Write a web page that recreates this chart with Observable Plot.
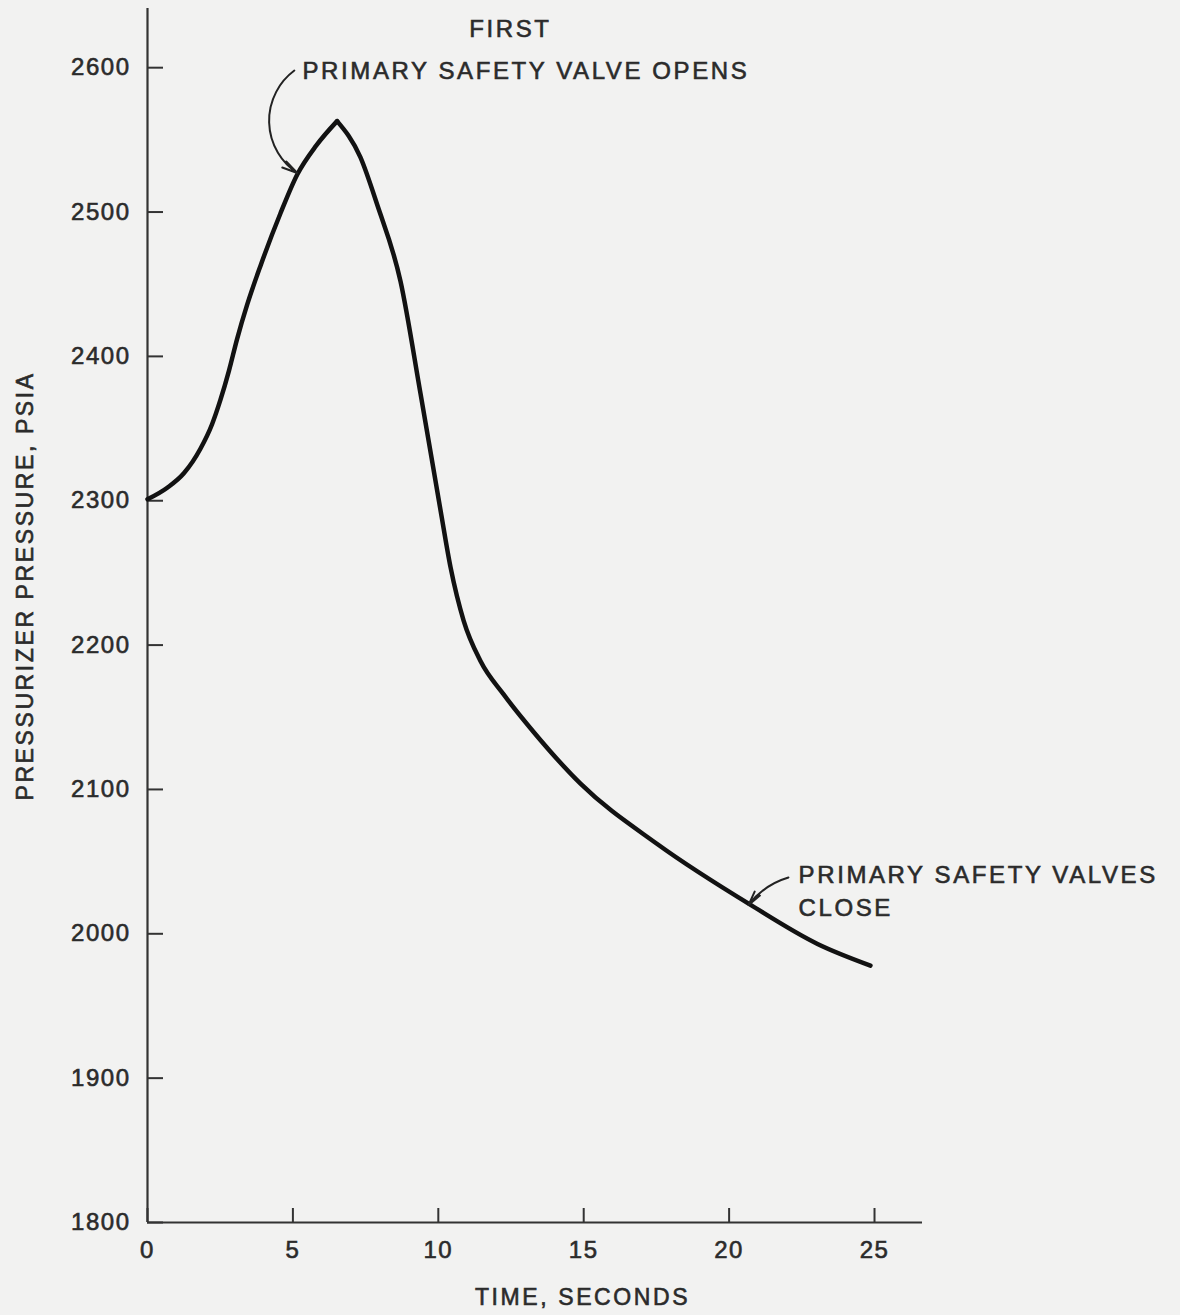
<!DOCTYPE html>
<html>
<head>
<meta charset="utf-8">
<script src="https://cdn.jsdelivr.net/npm/d3@7"></script>
<script src="https://cdn.jsdelivr.net/npm/@observablehq/plot@0.6"></script>
<style>
  html, body { margin: 0; padding: 0; background: #f2f2f1; }
  #chart { width: 1180px; height: 1315px; }
</style>
</head>
<body>
<div id="chart"></div>
<script>
// Pressurizer pressure transient after the first primary safety valve opens
const time =     [0,    0.68, 1.25, 1.82, 2.22, 2.51, 2.80, 3.08, 3.43, 3.89, 4.57, 5.15, 5.80, 6.52, 7.32, 7.90, 8.70, 9.39, 10.08, 10.42, 10.87, 11.45, 12.24, 13.27, 14.89, 17.54, 20.74, 23.04, 24.86];
const pressure = [2301, 2309, 2319, 2336, 2353, 2370, 2390, 2412, 2436, 2463, 2499, 2526, 2546, 2563, 2538, 2505, 2452, 2374, 2293,  2254,  2217,  2189,  2166,  2140,  2104,  2062,  2020,  1993,  1978];

const xTicks = [0, 5, 10, 15, 20, 25];
const yTicks = [1800, 1900, 2000, 2100, 2200, 2300, 2400, 2500, 2600];

// Annotation text (data coordinates)
const noteText = ["FIRST", "PRIMARY SAFETY VALVE OPENS", "PRIMARY SAFETY VALVES\nCLOSE"];
const noteTime = [12.48, 5.33, 22.39];
const notePressure = [2626.8, 2597.2, 2050.7];

// Leader arrows: from the note to the curve
const openArrow = {t1: 5.05, p1: 2598, t2: 5.15, p2: 2527};
const closeArrow = {t1: 22.04, p1: 2039, t2: 20.67, p2: 2020};

// The curve rises to a sharp peak, then falls: draw it as two pieces sharing the peak
const peak = d3.maxIndex(pressure);
const curve = [
  ...time.slice(0, peak + 1).map((t, i) => ({t, p: pressure[i], part: "rise"})),
  ...time.slice(peak).map((t, i) => ({t, p: pressure[peak + i], part: "fall"}))
];
const notes = noteText.map((text, i) => ({text, t: noteTime[i], p: notePressure[i]}));

const ink = "#2b2b2b";
const axisInk = "#333";
const font = 24;

const chart = Plot.plot({
  width: 1180,
  height: 1315,
  marginLeft: 147,
  marginRight: 258,
  marginTop: 8,
  marginBottom: 93,
  style: {fontFamily: "'Liberation Sans', Arial, sans-serif", background: "transparent", color: ink},
  x: {domain: [0, 26.65], label: null},
  y: {domain: [1800, 2641], label: null},
  marks: [
    Plot.ruleX([0], {stroke: axisInk, strokeWidth: 2.2}),
    Plot.ruleY([1800], {stroke: axisInk, strokeWidth: 2.2}),
    // inward tick marks
    Plot.axisY(yTicks, {tickSize: 16, dx: 16, fill: "none", stroke: axisInk, strokeWidth: 2}),
    Plot.axisX(xTicks, {tickSize: 14, dy: -14, fill: "none", stroke: axisInk, strokeWidth: 2}),
    // tick labels
    Plot.axisY(yTicks, {tickSize: 0, tickPadding: 17, tickFormat: d => String(d), fontSize: font, fill: ink}),
    Plot.axisX(xTicks, {tickSize: 0, tickPadding: 18, tickFormat: d => String(d), fontSize: font, fill: ink}),
    Plot.line(curve, {x: "t", y: "p", z: "part", curve: "monotone-x", stroke: "#121212", strokeWidth: 4.5, strokeLinejoin: "miter", strokeLinecap: "round"}),
    Plot.arrow([openArrow], {x1: "t1", y1: "p1", x2: "t2", y2: "p2", bend: -55, stroke: "#222", strokeWidth: 2, headLength: 12, headAngle: 26}),
    Plot.arrow([closeArrow], {x1: "t1", y1: "p1", x2: "t2", y2: "p2", bend: -18, stroke: "#222", strokeWidth: 2, headLength: 11, headAngle: 26}),
    Plot.text(notes.slice(0, 1), {x: "t", y: "p", text: "text", textAnchor: "middle", lineAnchor: "middle", fontSize: font, fill: ink}),
    Plot.text(notes.slice(1, 2), {x: "t", y: "p", text: "text", textAnchor: "start", lineAnchor: "middle", fontSize: font, fill: ink}),
    Plot.text(notes.slice(2), {x: "t", y: "p", text: "text", textAnchor: "start", lineAnchor: "top", lineHeight: 1.34, fontSize: font, fill: ink}),
    Plot.text(["TIME, SECONDS"], {x: 14.96, frameAnchor: "bottom", dy: 75, textAnchor: "middle", lineAnchor: "middle", fontSize: 23, fill: ink}),
    Plot.text(["PRESSURIZER PRESSURE, PSIA"], {y: 2241, frameAnchor: "left", dx: -122, rotate: -90, textAnchor: "middle", lineAnchor: "middle", fontSize: 23, fill: ink})
  ]
});

document.getElementById("chart").appendChild(chart);

// Wide tracking and a slightly heavier stroke on the lettering
const svg = d3.select(chart);
svg.selectAll('g[aria-label="y-axis tick label"] text, g[aria-label="x-axis tick label"] text').style("letter-spacing", "1.5px");
svg.selectAll('g[aria-label="text"] text').style("letter-spacing", "2.6px");
svg.selectAll("text").style("stroke", ink).style("stroke-width", "0.6px");
</script>
</body>
</html>
